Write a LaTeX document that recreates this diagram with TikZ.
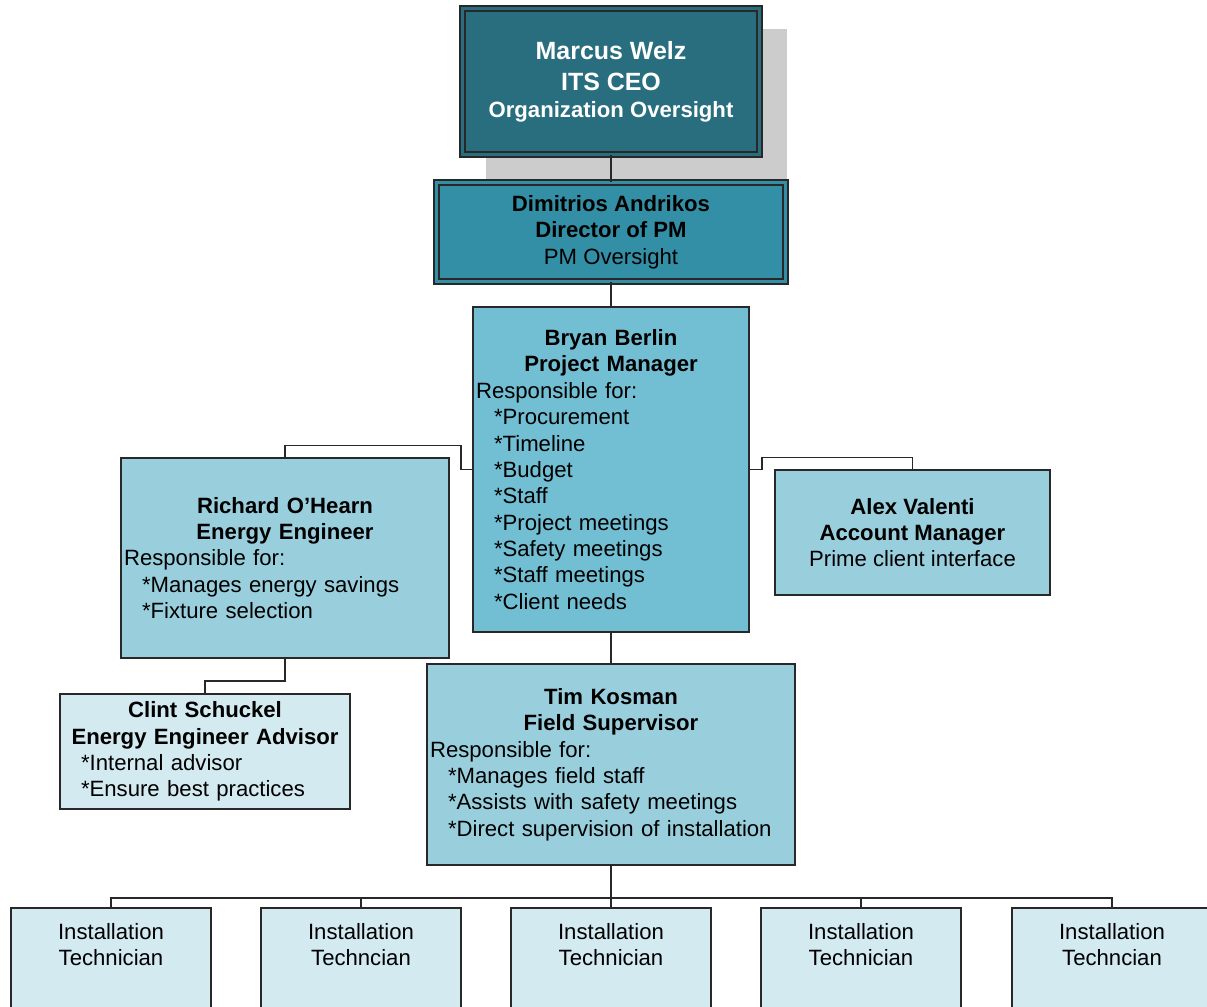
\documentclass[tikz,border=0pt]{standalone}
\usepackage{fontspec}
\setmainfont{Liberation Sans}
\usetikzlibrary{positioning, calc}
\definecolor{ceoteal}{RGB}{41,110,127}
\definecolor{dirteal}{RGB}{51,143,165}
\definecolor{pmblue}{RGB}{114,190,210}
\definecolor{midblue}{RGB}{153,207,221}
\definecolor{paleblue}{RGB}{210,234,240}
\definecolor{shadowgray}{RGB}{204,204,204}
\definecolor{edgegray}{RGB}{40,40,40}
\newcommand{\duty}[1]{\hspace*{0.36cm}*#1}

\begin{document}
\begin{tikzpicture}[x=0.02cm, y=-0.02cm,
  orgbox/.style={draw=edgegray, line width=1pt, inner sep=0.06cm, align=left, font=\fontsize{12.6}{15}\selectfont},
  dblbox/.style={orgbox, line width=1pt, double=#1, double distance=1.8pt, fill=#1, align=center},
  techlabel/.style={inner sep=0pt, align=center, anchor=north, font=\fontsize{12.6}{15}\selectfont},
  link/.style={draw=edgegray, line width=1.1pt}]
  \useasboundingbox (0,0) rectangle (1207,1007);
  \clip (0,0) rectangle (1207,1007);

  \node[fill=shadowgray, inner sep=0pt, minimum width=6.02cm, minimum height=3.04cm] (ceoshadow) at (636.5,105) {};
  \node[dblbox=ceoteal, text=white, minimum width=5.94cm, minimum height=2.92cm, font=\bfseries\fontsize{14.2}{18}\selectfont] (ceo) at (611,81.5) {Marcus Welz\\ITS CEO\\[-3pt]{\fontsize{12.6}{15}\selectfont Organization Oversight}};
  \node[dblbox=dirteal, minimum width=6.98cm, minimum height=1.98cm] (dir) at (611,232) {\textbf{Dimitrios Andrikos}\\\textbf{Director of PM}\\PM Oversight};

  \node[orgbox, fill=pmblue, minimum width=5.52cm, minimum height=6.5cm, text width=5.4cm] (pm) at (611,469.5) {{\centering\bfseries Bryan Berlin\\Project Manager\par}Responsible for:\\\duty{Procurement}\\\duty{Timeline}\\\duty{Budget}\\\duty{Staff}\\\duty{Project meetings}\\\duty{Safety meetings}\\\duty{Staff meetings}\\\duty{Client needs}};
  \node[orgbox, fill=midblue, minimum width=6.56cm, minimum height=4cm, text width=6.44cm] (rich) at (285,558) {{\centering\bfseries Richard O'Hearn\\Energy Engineer\par}Responsible for:\\\duty{Manages energy savings}\\\duty{Fixture selection}};
  \node[orgbox, fill=midblue, minimum width=5.5cm, minimum height=2.5cm, align=center] (alex) at (912.5,532.5) {\textbf{Alex Valenti}\\\textbf{Account Manager}\\Prime client interface};
  \node[orgbox, fill=midblue, minimum width=7.36cm, minimum height=4.02cm, text width=7.24cm] (tim) at (611,764.5) {{\centering\bfseries Tim Kosman\\Field Supervisor\par}Responsible for:\\\duty{Manages field staff}\\\duty{Assists with safety meetings}\\\duty{Direct supervision of installation}};
  \node[orgbox, fill=paleblue, minimum width=5.8cm, minimum height=2.3cm, text width=5.68cm] (clint) at (205,751.5) {{\centering\bfseries Clint Schuckel\\Energy Engineer Advisor\par}\duty{Internal advisor}\\\duty{Ensure best practices}};

  \foreach \x/\job [count=\i] in {111/Technician, 361/Techncian, 611/Technician, 861/Technician, 1112/Techncian} {
    \node[orgbox, fill=paleblue, minimum width=4cm, minimum height=3.2cm] (tech\i) at (\x,988) {};
    \node[techlabel] (techtext\i) at ([yshift=-0.32cm]tech\i.north) {Installation\\\job};
  }

  \draw[link] (ceo) -- (dir);
  \draw[link] (dir) -- (pm);
  \draw[link] (pm) -- (tim);
  \draw[link] (pm.west) -- ++(-11,0) -- ++(0,-24) -| (rich.north);
  \draw[link] (pm.east) -- ++(12,0) -- ++(0,-12) -| (alex.north);
  \draw[link] (rich.south) -- ++(0,22) -| (clint.north);
  \foreach \i in {1,...,5}
    \draw[link] (tim.south) -- ++(0,32) -| (tech\i.north);
\end{tikzpicture}
\end{document}
